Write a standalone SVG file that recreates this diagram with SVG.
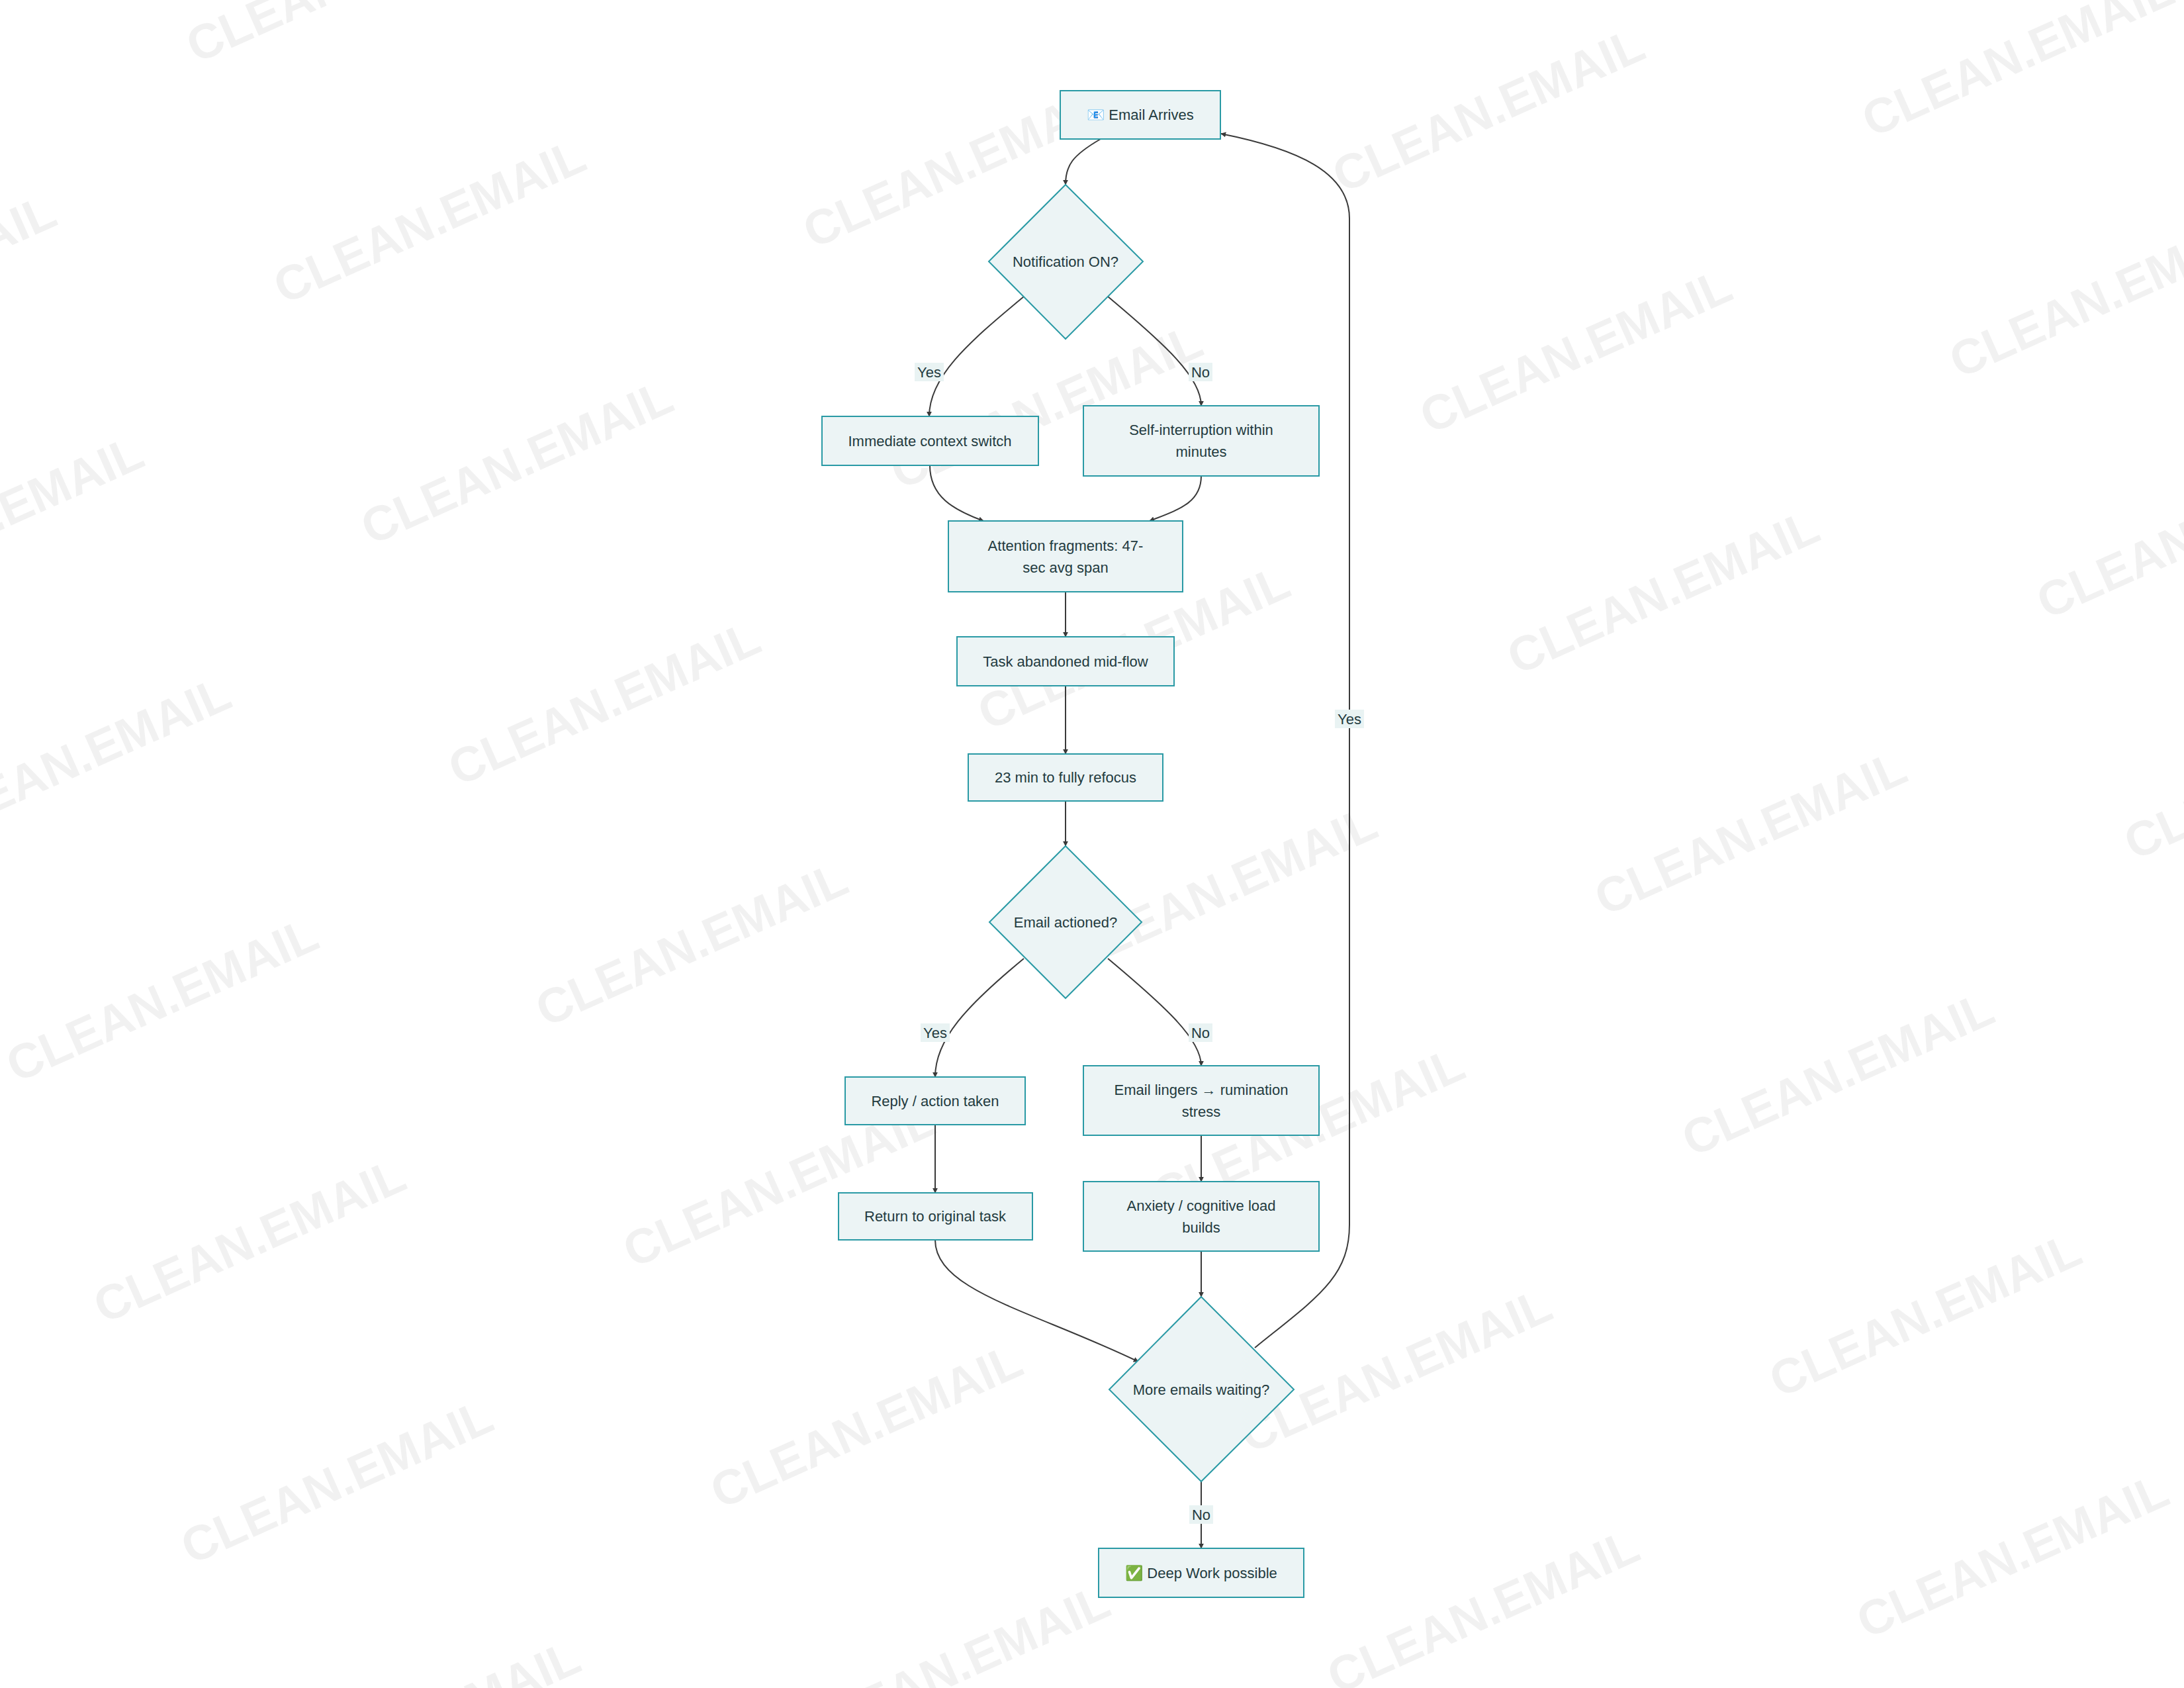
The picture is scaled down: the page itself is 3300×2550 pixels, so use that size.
<svg xmlns="http://www.w3.org/2000/svg" width="3300" height="2550" viewBox="0 0 3300 2550">
<defs>
<style>
.wm{font-family:"Liberation Sans",Arial,sans-serif;font-weight:bold;font-size:74px;fill:#000;fill-opacity:0.055;text-anchor:middle;dominant-baseline:central}
.n{fill:#ecf4f5;stroke:#2a9aa5;stroke-width:2}
.t{font-family:"Liberation Sans",Arial,sans-serif;font-size:22px;fill:#233b3f;text-anchor:middle;dominant-baseline:central}
.e{fill:none;stroke:#3a3a3a;stroke-width:2;marker-end:url(#ah)}
.lb{fill:#e9f3f3}
</style>
<marker id="ah" viewBox="0 0 10 10" refX="9" refY="5" markerWidth="8" markerHeight="8" markerUnits="userSpaceOnUse" orient="auto"><path d="M0,0L10,5L0,10z" fill="#3a3a3a"/></marker>
</defs>
<rect width="3300" height="2550" fill="#fff"/>
<g id="watermarks" transform="translate(-12,4)">
<text class="wm" transform="translate(529,-34) rotate(-24)">CLEAN.EMAIL</text>
<text class="wm" transform="translate(-139,414) rotate(-24)">CLEAN.EMAIL</text>
<text class="wm" transform="translate(661,330) rotate(-24)">CLEAN.EMAIL</text>
<text class="wm" transform="translate(1461,246) rotate(-24)">CLEAN.EMAIL</text>
<text class="wm" transform="translate(2261,162) rotate(-24)">CLEAN.EMAIL</text>
<text class="wm" transform="translate(3061,78) rotate(-24)">CLEAN.EMAIL</text>
<text class="wm" transform="translate(-7,778) rotate(-24)">CLEAN.EMAIL</text>
<text class="wm" transform="translate(793,694) rotate(-24)">CLEAN.EMAIL</text>
<text class="wm" transform="translate(1593,610) rotate(-24)">CLEAN.EMAIL</text>
<text class="wm" transform="translate(2393,526) rotate(-24)">CLEAN.EMAIL</text>
<text class="wm" transform="translate(3193,442) rotate(-24)">CLEAN.EMAIL</text>
<text class="wm" transform="translate(125,1142) rotate(-24)">CLEAN.EMAIL</text>
<text class="wm" transform="translate(925,1058) rotate(-24)">CLEAN.EMAIL</text>
<text class="wm" transform="translate(1725,974) rotate(-24)">CLEAN.EMAIL</text>
<text class="wm" transform="translate(2525,890) rotate(-24)">CLEAN.EMAIL</text>
<text class="wm" transform="translate(3325,806) rotate(-24)">CLEAN.EMAIL</text>
<text class="wm" transform="translate(257,1506) rotate(-24)">CLEAN.EMAIL</text>
<text class="wm" transform="translate(1057,1422) rotate(-24)">CLEAN.EMAIL</text>
<text class="wm" transform="translate(1857,1338) rotate(-24)">CLEAN.EMAIL</text>
<text class="wm" transform="translate(2657,1254) rotate(-24)">CLEAN.EMAIL</text>
<text class="wm" transform="translate(3457,1170) rotate(-24)">CLEAN.EMAIL</text>
<text class="wm" transform="translate(389,1870) rotate(-24)">CLEAN.EMAIL</text>
<text class="wm" transform="translate(1189,1786) rotate(-24)">CLEAN.EMAIL</text>
<text class="wm" transform="translate(1989,1702) rotate(-24)">CLEAN.EMAIL</text>
<text class="wm" transform="translate(2789,1618) rotate(-24)">CLEAN.EMAIL</text>
<text class="wm" transform="translate(521,2234) rotate(-24)">CLEAN.EMAIL</text>
<text class="wm" transform="translate(1321,2150) rotate(-24)">CLEAN.EMAIL</text>
<text class="wm" transform="translate(2121,2066) rotate(-24)">CLEAN.EMAIL</text>
<text class="wm" transform="translate(2921,1982) rotate(-24)">CLEAN.EMAIL</text>
<text class="wm" transform="translate(653,2598) rotate(-24)">CLEAN.EMAIL</text>
<text class="wm" transform="translate(1453,2514) rotate(-24)">CLEAN.EMAIL</text>
<text class="wm" transform="translate(2253,2430) rotate(-24)">CLEAN.EMAIL</text>
<text class="wm" transform="translate(3053,2346) rotate(-24)">CLEAN.EMAIL</text>
</g>
<g id="connectors">
<path class="e" d="M1663,210 C1620,235 1610,250 1610,279"/>
<path class="e" d="M1547,448 C1460,520 1404,570 1404,629"/>
<path class="e" d="M1674,448 C1760,520 1815,570 1815,613"/>
<path class="e" d="M1405,703 C1405,750 1440,770 1486,787"/>
<path class="e" d="M1815,719 C1815,760 1780,770 1737,787"/>
<path class="e" d="M1610,894 L1610,962"/>
<path class="e" d="M1610,1036 L1610,1139"/>
<path class="e" d="M1610,1210 L1610,1278"/>
<path class="e" d="M1547,1448 C1460,1520 1413,1570 1413,1627"/>
<path class="e" d="M1674,1448 C1760,1520 1815,1570 1815,1610"/>
<path class="e" d="M1413,1699 L1413,1802"/>
<path class="e" d="M1815,1715 L1815,1785"/>
<path class="e" d="M1815,1890 L1815,1959"/>
<path class="e" d="M1413,1873 C1413,1950 1560,1980 1720,2057"/>
<path class="e" d="M1896,2036 C1990,1960 2039,1930 2039,1850 L2039,330 C2039,260 1960,225 1845,202"/>
<path class="e" d="M1815,2238 L1815,2339"/>
<rect class="lb" x="1382" y="548" width="44" height="28"/><text class="t" x="1404" y="562">Yes</text>
<rect class="lb" x="1796" y="548" width="36" height="28"/><text class="t" x="1814" y="562">No</text>
<rect class="lb" x="1391" y="1546" width="44" height="28"/><text class="t" x="1413" y="1560">Yes</text>
<rect class="lb" x="1796" y="1546" width="36" height="28"/><text class="t" x="1814" y="1560">No</text>
<rect class="lb" x="2017" y="1072" width="44" height="28"/><text class="t" x="2039" y="1086">Yes</text>
<rect class="lb" x="1797" y="2274" width="36" height="28"/><text class="t" x="1815" y="2288">No</text>
</g>
<g id="email_arrives"><rect class="n" x="1602" y="137" width="242" height="73"/><text class="t" x="1723" y="173">📧 Email Arrives</text></g>
<g id="notification"><polygon class="n" points="1610,279 1727,395 1610,512 1494,395"/><text class="t" x="1610" y="395">Notification ON?</text></g>
<g id="immediate"><rect class="n" x="1242" y="629" width="327" height="74"/><text class="t" x="1405" y="666">Immediate context switch</text></g>
<g id="self_interruption"><rect class="n" x="1637" y="613" width="356" height="106"/><text class="t" x="1815" y="649">Self-interruption within</text><text class="t" x="1815" y="682">minutes</text></g>
<g id="attention"><rect class="n" x="1433" y="787" width="354" height="107"/><text class="t" x="1610" y="824">Attention fragments: 47-</text><text class="t" x="1610" y="857">sec avg span</text></g>
<g id="task_abandoned"><rect class="n" x="1446" y="962" width="328" height="74"/><text class="t" x="1610" y="999">Task abandoned mid-flow</text></g>
<g id="refocus"><rect class="n" x="1463" y="1139" width="294" height="71"/><text class="t" x="1610" y="1174">23 min to fully refocus</text></g>
<g id="email_actioned"><polygon class="n" points="1610,1278 1725,1393 1610,1508 1495,1393"/><text class="t" x="1610" y="1393">Email actioned?</text></g>
<g id="reply"><rect class="n" x="1277" y="1627" width="272" height="72"/><text class="t" x="1413" y="1663">Reply / action taken</text></g>
<g id="lingers"><rect class="n" x="1637" y="1610" width="356" height="105"/><text class="t" x="1815" y="1646">Email lingers → rumination</text><text class="t" x="1815" y="1679">stress</text></g>
<g id="return"><rect class="n" x="1267" y="1802" width="293" height="71"/><text class="t" x="1413" y="1837">Return to original task</text></g>
<g id="anxiety"><rect class="n" x="1637" y="1785" width="356" height="105"/><text class="t" x="1815" y="1821">Anxiety / cognitive load</text><text class="t" x="1815" y="1854">builds</text></g>
<g id="more_emails"><polygon class="n" points="1815,1959 1955,2099 1815,2238 1676,2099"/><text class="t" x="1815" y="2099">More emails waiting?</text></g>
<g id="deep_work"><rect class="n" x="1660" y="2339" width="310" height="74"/><text class="t" x="1815" y="2376">✅ Deep Work possible</text></g>
</svg>
